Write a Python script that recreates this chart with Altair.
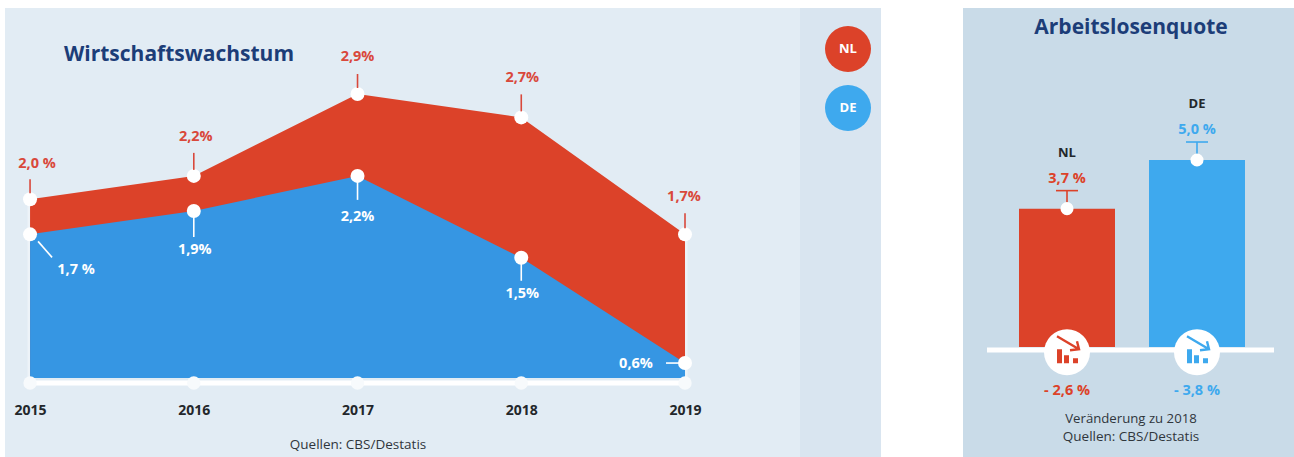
import altair as alt
import pandas as pd

# Economic growth, percent
years = [2015, 2016, 2017, 2018, 2019]
nl_growth = [2.0, 2.2, 2.9, 2.7, 1.7]
de_growth = [1.7, 1.9, 2.2, 1.5, 0.6]
nl_growth_labels = ["2,0 %", "2,2%", "2,9%", "2,7%", "1,7%"]
de_growth_labels = ["1,7 %", "1,9%", "2,2%", "1,5%", "0,6%"]

# Unemployment, percent, with the change against the previous year
countries = ["NL", "DE"]
unemployment = [3.7, 5.0]
unemployment_labels = ["3,7 %", "5,0 %"]
change_labels = ["- 2,6 %", "- 3,8 %"]

RED = "#dc4229"
BLUE = "#3696e3"
SKY = "#3ea9ee"
RED_TEXT = "#d9483b"
NAVY = "#1c3d78"
DARK = "#23272b"
FONT = "Open Sans"

LEFT_W, RIGHT_W, PANEL_H = 876, 331, 449

x_year = alt.Scale(domain=[2014.847, 2020.197], nice=False, zero=False)
y_growth = alt.Scale(domain=[-0.203, 3.635], nice=False, zero=False)
AREA_FLOOR = 0.473
AXIS_LINE = 0.43

X = alt.X("year:Q", scale=x_year, title=None,
          axis=alt.Axis(values=years, format="d", domain=False, ticks=False, grid=False,
                        offset=-47, labelPadding=0, labelFontSize=14, labelFont=FONT,
                        labelFontWeight="bold", labelColor=DARK, labelBaseline="middle",
                        zindex=1))
Y = alt.Y("value:Q", scale=y_growth, axis=None)

nl = pd.DataFrame({"year": years, "value": nl_growth, "label": nl_growth_labels, "floor": AREA_FLOOR})
de = pd.DataFrame({"year": years, "value": de_growth, "label": de_growth_labels, "floor": AREA_FLOOR})
baseline = pd.DataFrame({"year": years, "value": AXIS_LINE})


def growth_callout(row, color, text_offset, line_from, line_to, width=1.6):
    """Value label for one point with its short leader line."""
    d = pd.DataFrame([row])
    line = alt.Chart(d).mark_rule(
        color=color, strokeWidth=width,
        xOffset=line_from[0], yOffset=line_from[1],
        x2Offset=line_to[0], y2Offset=line_to[1],
    ).encode(x=X, x2="year:Q", y=Y, y2="value:Q")
    text = alt.Chart(d).mark_text(
        color=color, font=FONT, fontWeight="bold", fontSize=14.5,
        dx=text_offset[0], dy=text_offset[1],
    ).encode(x=X, y=Y, text="label:N")
    return [line, text]


def free_text(chart_text, px, py, size, color, weight="bold"):
    return alt.Chart(pd.DataFrame({"t": [chart_text]})).mark_text(
        font=FONT, fontSize=size, fontWeight=weight, color=color
    ).encode(x=alt.value(px), y=alt.value(py), text="t:N")


# Left panel
side_band = alt.Chart(pd.DataFrame({"a": [0]})).mark_rect(color="#d9e5f0").encode(
    x=alt.value(795), x2=alt.value(LEFT_W), y=alt.value(0), y2=alt.value(PANEL_H))

edge = alt.Chart(pd.DataFrame({"year": [2015, 2019], "value": [nl_growth[0], nl_growth[-1]], "low": AXIS_LINE})).mark_rule(
    color="#edf3f8", strokeWidth=5).encode(x=X, y=Y, y2="low:Q")

nl_area = alt.Chart(nl).mark_area(color=RED, opacity=1).encode(x=X, y=Y, y2="floor:Q")
de_area = alt.Chart(de).mark_area(color=BLUE, opacity=1).encode(x=X, y=Y, y2="floor:Q")

axis_line = alt.Chart(baseline).mark_line(color="white", strokeWidth=5).encode(x=X, y=Y)
axis_dots = alt.Chart(baseline).mark_point(filled=True, color="#f7fafc", opacity=1, size=180).encode(x=X, y=Y)
nl_dots = alt.Chart(nl).mark_point(filled=True, color="white", opacity=1, size=196).encode(x=X, y=Y)
de_dots = alt.Chart(de).mark_point(filled=True, color="white", opacity=1, size=196).encode(x=X, y=Y)

nl_rows = nl.to_dict("records")
de_rows = de.to_dict("records")
callouts = []
callouts += growth_callout(nl_rows[0], RED_TEXT, (7, -35), (0, -20), (0, -6))
callouts += growth_callout(nl_rows[1], RED_TEXT, (2, -39), (0, -23), (0, -6))
callouts += growth_callout(nl_rows[2], RED_TEXT, (0, -37), (0, -20), (0, -6))
callouts += growth_callout(nl_rows[3], RED_TEXT, (1, -39), (0, -23), (0, -6))
callouts += growth_callout(nl_rows[4], RED_TEXT, (-1, -37), (0, -21), (0, -6))
callouts += growth_callout(de_rows[0], "white", (46, 36), (8, 7), (22, 23))
callouts += growth_callout(de_rows[1], "white", (1, 39), (0, 6), (0, 26))
callouts += growth_callout(de_rows[2], "white", (0, 41), (0, 6), (0, 24))
callouts += growth_callout(de_rows[3], "white", (1, 36), (0, 6), (0, 23))
callouts += growth_callout(de_rows[4], "white", (-49, 1), (-19, 0), (-5, 0))

legend_key = [
    alt.Chart(pd.DataFrame({"k": [name]})).mark_point(
        filled=True, color=col, opacity=1, size=2116
    ).encode(x=alt.value(843), y=alt.value(py))
    for name, col, py in [("NL", RED, 41), ("DE", SKY, 100)]
]

left = alt.layer(
    side_band, edge, nl_area, de_area, axis_line, axis_dots, nl_dots, de_dots,
    *callouts, *legend_key,
    free_text("NL", 843, 41, 13, "white"),
    free_text("DE", 843, 100, 13, "white"),
    free_text("Wirtschaftswachstum", 174, 47, 21, NAVY),
    free_text("Quellen: CBS/Destatis", 353, 437, 13.5, "#30363c", "normal"),
).properties(width=LEFT_W, height=PANEL_H, view=alt.ViewConfig(fill="#e2ecf4", stroke=None))

# Right panel
x_country = alt.Scale(domain=countries, range=[56, 282], paddingInner=0.2615, paddingOuter=0)
y_rate = alt.Scale(domain=[-2.94, 9.064], nice=False, zero=False)
XC = alt.X("country:N", scale=x_country, axis=None, sort=None)
YR = alt.Y("rate:Q", scale=y_rate, axis=None)

rates = pd.DataFrame({"country": countries, "rate": unemployment, "label": unemployment_labels,
                      "change": change_labels, "zero": [0, 0]})
bar_colors = alt.Color("country:N", scale=alt.Scale(domain=countries, range=[RED, SKY]), legend=None)
text_colors = alt.Color("country:N", scale=alt.Scale(domain=countries, range=[RED_TEXT, SKY]), legend=None)

bars = alt.Chart(rates).mark_bar(opacity=1).encode(x=XC, y=YR, y2="zero:Q", color=bar_colors)
floor_line = alt.Chart(pd.DataFrame({"rate": [-0.08]})).mark_rule(color="white", strokeWidth=5).encode(
    x=alt.value(24), x2=alt.value(311), y=YR)
stems = alt.Chart(rates).mark_rule(strokeWidth=1.6, yOffset=-18, y2Offset=-5).encode(
    x=XC, y=YR, y2="rate:Q", color=text_colors)
caps = alt.Chart(rates).mark_tick(thickness=1.6, size=22, yOffset=-18, opacity=1, orient="horizontal").encode(
    x=XC, y=YR, color=text_colors)
top_dots = alt.Chart(rates).mark_point(filled=True, color="white", opacity=1, size=170).encode(x=XC, y=YR)
rate_text = alt.Chart(rates).mark_text(font=FONT, fontWeight="bold", fontSize=14.5, dy=-30).encode(
    x=XC, y=YR, text="label:N", color=text_colors)
name_text = alt.Chart(rates).mark_text(font=FONT, fontWeight="bold", fontSize=13, color=DARK, dy=-56).encode(
    x=XC, y=YR, text="country:N")

ICON_Y = -0.14
icons = rates.assign(icon_y=ICON_Y)
Y_ICON = alt.Y("icon_y:Q", scale=y_rate, axis=None)
icon_disc = alt.Chart(icons).mark_point(filled=True, color="white", opacity=1, size=2116).encode(x=XC, y=Y_ICON)
icon_bars = alt.Chart(icons).mark_point(
    filled=True, opacity=1, size=4,
    shape="M-10,-3L-5,-3L-5,11L-10,11ZM-3,3L2,3L2,11L-3,11ZM6,6L11,6L11,11L6,11Z",
).encode(x=XC, y=Y_ICON, color=bar_colors)
icon_arrow = alt.Chart(icons).mark_point(
    filled=False, opacity=1, size=4, strokeWidth=2.4,
    shape="M-10,-16L12,-3M3,-2L12,-3L10,-11",
).encode(x=XC, y=Y_ICON, color=bar_colors)
change_text = alt.Chart(icons).mark_text(font=FONT, fontWeight="bold", fontSize=14.5, dy=39).encode(
    x=XC, y=Y_ICON, text="change:N", color=text_colors)

right = alt.layer(
    bars, floor_line, stems, caps, top_dots, rate_text, name_text,
    icon_disc, icon_bars, icon_arrow, change_text,
    free_text("Arbeitslosenquote", 168, 20, 21, NAVY),
    free_text("Veränderung zu 2018", 168, 411, 13.2, "#30363c", "normal"),
    free_text("Quellen: CBS/Destatis", 168, 429, 13.5, "#30363c", "normal"),
).properties(width=RIGHT_W, height=PANEL_H, view=alt.ViewConfig(fill="#c9dbe8", stroke=None))

chart = alt.hconcat(left, right, spacing=82).properties(
    padding={"left": 5, "top": 8, "right": 0, "bottom": 0},
    background="white",
)

chart.save("out.html", embed_options={"renderer": "svg", "actions": False})
